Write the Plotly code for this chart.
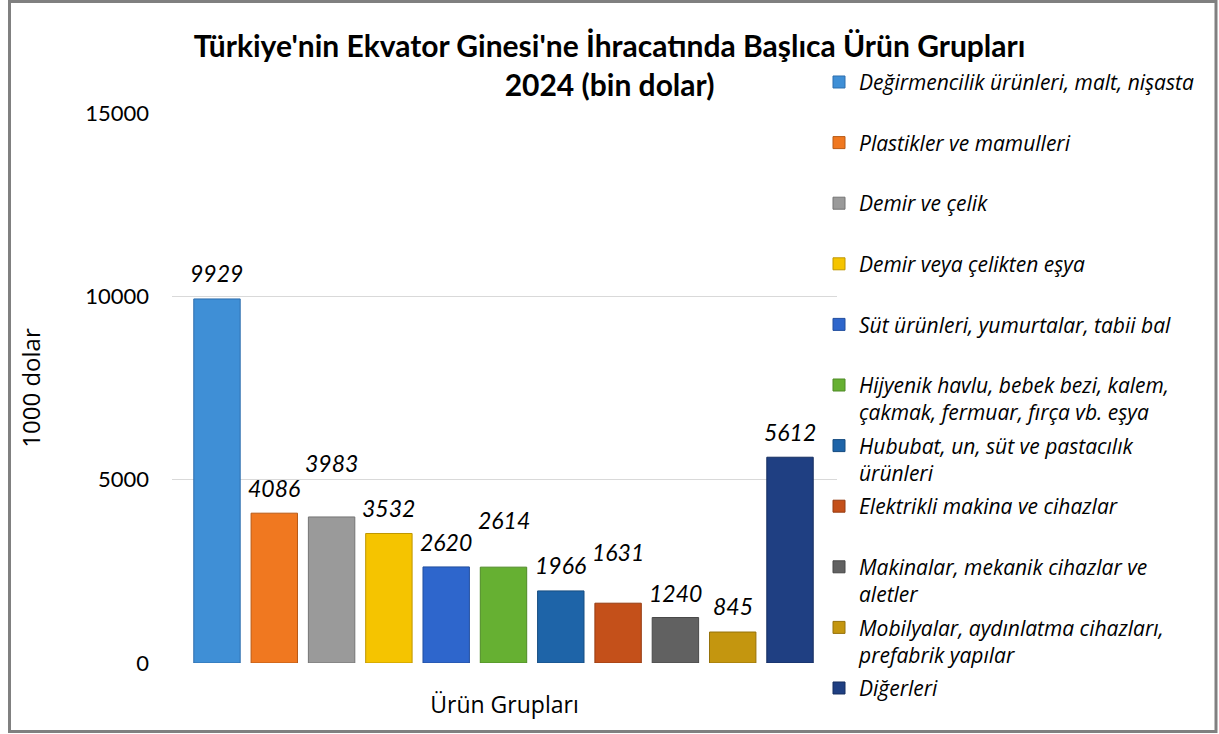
import plotly.graph_objects as go

# ---- data ----
categories = [
    "Değirmencilik ürünleri, malt, nişasta",
    "Plastikler ve mamulleri",
    "Demir ve çelik",
    "Demir veya çelikten eşya",
    "Süt ürünleri, yumurtalar, tabii bal",
    "Hijyenik havlu, bebek bezi, kalem, çakmak, fermuar, fırça vb. eşya",
    "Hububat, un, süt ve pastacılık ürünleri",
    "Elektrikli makina ve cihazlar",
    "Makinalar, mekanik cihazlar ve aletler",
    "Mobilyalar, aydınlatma cihazları, prefabrik yapılar",
    "Diğerleri",
]
values = [9929, 4086, 3983, 3532, 2620, 2614, 1966, 1631, 1240, 845, 5612]
legend_labels = [
    "Değirmencilik ürünleri, malt, nişasta<br> ",
    "Plastikler ve mamulleri<br> ",
    "Demir ve çelik<br> ",
    "Demir veya çelikten eşya<br> ",
    "Süt ürünleri, yumurtalar, tabii bal<br> ",
    "Hijyenik havlu, bebek bezi, kalem,<br>çakmak, fermuar, fırça vb. eşya",
    "Hububat, un, süt ve pastacılık<br>ürünleri",
    "Elektrikli makina ve cihazlar<br> ",
    "Makinalar, mekanik cihazlar ve<br>aletler",
    "Mobilyalar, aydınlatma cihazları,<br>prefabrik yapılar",
    "Diğerleri<br> ",
]
y_ticks = [0, 5000, 10000, 15000]

# ---- styles ----
colors = ["#3F8FD6", "#F07820", "#9A9A9A", "#F5C400", "#2E66CC", "#66B032",
          "#1E64A8", "#C4501A", "#616161", "#C4960F", "#1F3F82"]
line_colors = ["#2F6FAE", "#B85A16", "#747474", "#BF9600", "#224E9E", "#4E8A26",
               "#164C80", "#963C12", "#484848", "#96720A", "#162E60"]
label_lift = [26, 25, 54, 25, 25, 47, 26, 51, 25, 26, 25]

fig = go.Figure()
for i, (cat, val) in enumerate(zip(categories, values)):
    fig.add_trace(go.Bar(
        x=[cat], y=[val], name=legend_labels[i],
        marker=dict(color=colors[i], line=dict(color=line_colors[i], width=1)),
        width=0.81, legendgroup=f"g{i}",
        hoverinfo="x+y",
    ))
    fig.add_annotation(
        x=cat, y=val, text=str(val), showarrow=False,
        yanchor="middle", yshift=label_lift[i],
        font=dict(family="Lato", size=23, color="#000000", style="italic"),
    )

fig.update_layout(
    width=1219, height=734,
    margin=dict(l=172, r=1219 - 837, t=113, b=71, autoexpand=False),
    paper_bgcolor="white", plot_bgcolor="white",
    barmode="overlay",
    title=dict(
        text="Türkiye'nin Ekvator Ginesi'ne İhracatında Başlıca Ürün Grupları<br>2024 (bin dolar)",
        x=0.5, xref="container", xanchor="center", y=1 - 57 / 734, yanchor="top",
        font=dict(family="Lato", size=30, color="#000000", weight="bold"),
    ),
    xaxis=dict(
        type="category", categoryorder="array", categoryarray=categories,
        range=[-0.785, 10.82], showticklabels=False, showgrid=False,
        zeroline=False, showline=False, ticks="",
        title=dict(text="Ürün Grupları", standoff=33,
                   font=dict(family="Open Sans", size=23, color="#000000")),
    ),
    yaxis=dict(
        range=[0, 15000], tickvals=y_ticks, tickformat="d", showgrid=True,
        gridcolor="#D9D9D9", gridwidth=1, zeroline=False, showline=False,
        ticks="", ticklabelstandoff=22,
        tickfont=dict(family="Lato", size=22, color="#000000"),
        title=dict(text="1000 dolar", standoff=37,
                   font=dict(family="Open Sans", size=24, color="#000000")),
    ),
    legend=dict(
        x=(819 - 172) / 665, xanchor="left", y=1.093, yanchor="top",
        traceorder="grouped", tracegroupgap=3, valign="top",
        bgcolor="rgba(255,255,255,0)", maxheight=720,
        font=dict(family="Open Sans", size=21, color="#000000", style="italic"),
    ),
    showlegend=True,
    shapes=[dict(
        type="rect", xref="paper", yref="paper",
        x0=(9.5 - 172) / 665, x1=(1216 - 172) / 665,
        y0=(663 - 731.5) / 550, y1=(663 - 1.5) / 550,
        line=dict(color="#808080", width=3), fillcolor="rgba(0,0,0,0)",
        layer="above",
    )],
)

fig.write_html("out.html", config={"displayModeBar": False},
               post_script="document.body.style.margin='0px';")
